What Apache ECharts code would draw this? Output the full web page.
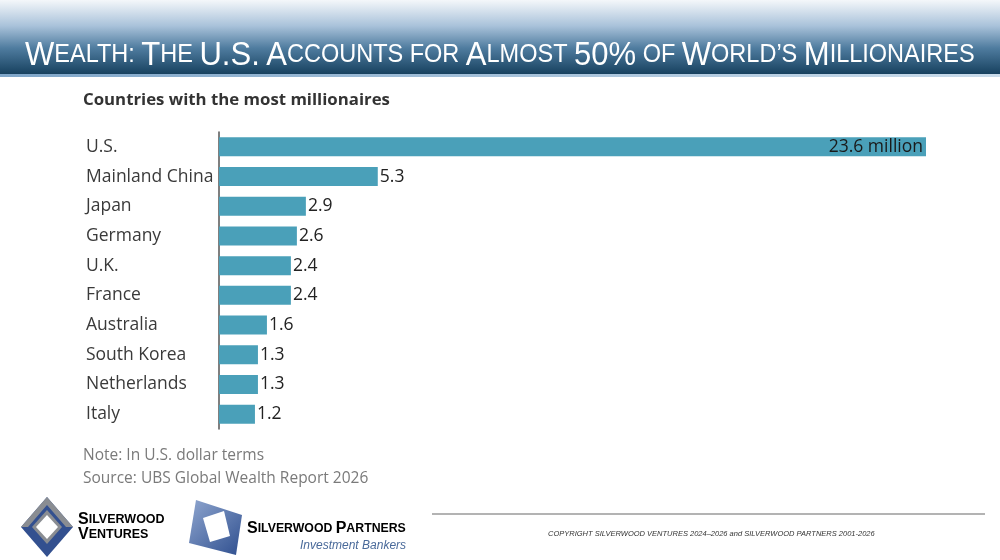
<!DOCTYPE html>
<meta charset="utf-8">
<title>Countries with the most millionaires</title>
<style>
  html, body { margin: 0; padding: 0; background: #fff; }
  #main { width: 1000px; height: 560px; }
</style>
<body>
<div id="main"></div>
<script src="https://cdn.jsdelivr.net/npm/echarts@6/dist/echarts.min.js"></script>
<script>
// data (millions of millionaires)
var countries = ['U.S.', 'Mainland China', 'Japan', 'Germany', 'U.K.', 'France',
                 'Australia', 'South Korea', 'Netherlands', 'Italy'];
var millionaires = [23.6, 5.3, 2.9, 2.6, 2.4, 2.4, 1.6, 1.3, 1.3, 1.2];

var titleRich = '{b|W}{s|EALTH:} {b|T}{s|HE} {b|U.S.} {b|A}{s|CCOUNTS FOR} {b|A}{s|LMOST} ' +
                '{b|50%} {s|OF} {b|W}{s|ORLD\u2019S} {b|M}{s|ILLIONAIRES}';

var barData = millionaires.map(function (v, i) {
  if (i === 0) {
    return { value: v, label: { position: 'insideRight', distance: 3, color: '#1a1a1a' } };
  }
  return v;
});

var myChart = echarts.init(document.getElementById('main'));

var option = {
  animation: false,
  textStyle: { fontFamily: 'Open Sans' },
  grid: { left: 219, right: 74, top: 132, height: 297 },
  xAxis: {
    type: 'value', min: 0, max: 23.6, show: false
  },
  yAxis: {
    type: 'category',
    data: countries,
    inverse: true,
    axisLine: { show: true, lineStyle: { color: '#555', width: 1.5 } },
    axisTick: { show: false },
    axisLabel: {
      align: 'left', margin: 133, fontSize: 17.5, color: '#3a3a3a', fontFamily: 'Open Sans'
    }
  },
  series: [{
    type: 'bar',
    data: barData,
    barWidth: 19,
    itemStyle: { color: '#4aa0b9' },
    label: {
      show: true, position: 'right', distance: 2,
      fontSize: 17.5, color: '#222', fontFamily: 'Open Sans',
      formatter: function (p) {
        return p.dataIndex === 0 ? p.value + ' million' : p.value;
      }
    }
  }],
  graphic: [
    // header band
    {
      type: 'rect', left: 0, top: 0, z: 0,
      shape: { width: 1000, height: 74 },
      style: {
        fill: new echarts.graphic.LinearGradient(0, 0, 0, 1, [
          { offset: 0, color: '#f4f7fa' },
          { offset: 0.35, color: '#a9c2da' },
          { offset: 0.65, color: '#4f7c9f' },
          { offset: 1, color: '#17415f' }
        ])
      }
    },
    {
      type: 'rect', left: 0, top: 74, z: 0,
      shape: { width: 1000, height: 3 },
      style: {
        fill: new echarts.graphic.LinearGradient(0, 0, 1, 0, [
          { offset: 0, color: '#7fa6c9' },
          { offset: 1, color: '#c9dbea' }
        ])
      }
    },
    {
      type: 'text', x: 25, y: 39, z: 5, scaleX: 0.94,
      style: {
        text: titleRich,
        fill: '#fff',
        font: '25px "Liberation Sans Narrow", "Liberation Sans"',
        rich: {
          b: { fontSize: 33, fontFamily: 'Liberation Sans Narrow, Liberation Sans', color: '#fff' },
          s: { fontSize: 25, fontFamily: 'Liberation Sans Narrow, Liberation Sans', color: '#fff' }
        }
      }
    },
    // chart heading and notes
    {
      type: 'text', left: 83, top: 92,
      style: { text: 'Countries with the most millionaires', fill: '#333',
               font: 'bold 16.8px "Open Sans"' }
    },
    {
      type: 'text', left: 83, top: 448,
      style: { text: 'Note: In U.S. dollar terms', fill: '#7a7a7a', font: '15.5px "Open Sans"' }
    },
    {
      type: 'text', left: 83, top: 471,
      style: { text: 'Source: UBS Global Wealth Report 2026', fill: '#7a7a7a', font: '15.5px "Open Sans"' }
    },
    // footer rule and copyright
    {
      type: 'line', shape: { x1: 432, y1: 514, x2: 985, y2: 514 },
      style: { stroke: '#9a9a9a', lineWidth: 1.5 }
    },
    {
      type: 'text', left: 548, top: 530,
      style: {
        text: 'COPYRIGHT SILVERWOOD VENTURES 2024\u20132026 and SILVERWOOD PARTNERS 2001-2026',
        fill: '#333', font: 'italic 7.5px "Liberation Sans Narrow", "Liberation Sans"'
      }
    },
    // Silverwood Ventures mark
    {
      type: 'polygon',
      shape: { points: [[47, 497], [73, 527], [47, 557], [21, 527]] },
      style: { fill: '#33508f' }
    },
    {
      type: 'polygon',
      shape: { points: [[47, 497], [73, 527], [66, 527], [47, 505], [28, 527], [21, 527]] },
      style: { fill: '#8a8d92' }
    },
    {
      type: 'polygon',
      shape: { points: [[47, 510], [62, 527], [47, 544], [32, 527]] },
      style: { fill: '#8a8d92' }
    },
    {
      type: 'polygon',
      shape: { points: [[47, 515], [58, 527], [47, 539], [36, 527]] },
      style: { fill: '#fff' }
    },
    {
      type: 'text', left: 78, top: 512,
      style: {
        text: '{b|S}{s|ILVERWOOD}\n{b|V}{s|ENTURES}',
        rich: {
          b: { fontSize: 16, fontWeight: 'bold', color: '#3a56a0', fontFamily: 'Liberation Sans', lineHeight: 15 },
          s: { fontSize: 12.5, fontWeight: 'bold', color: '#3a56a0', fontFamily: 'Liberation Sans', lineHeight: 15 }
        }
      }
    },
    // Silverwood Partners mark
    {
      type: 'polygon',
      shape: { points: [[196, 500], [242, 515], [236, 555], [189, 543]] },
      style: {
        fill: new echarts.graphic.LinearGradient(0, 0, 1, 1, [
          { offset: 0, color: '#8fa6cf' },
          { offset: 1, color: '#2f4f8f' }
        ])
      }
    },
    {
      type: 'polygon',
      shape: { points: [[203, 518], [224, 511], [230, 536], [210, 542]] },
      style: { fill: '#fff' }
    },
    {
      type: 'text', left: 247, top: 521,
      style: {
        text: '{b|S}{s|ILVERWOOD} {b|P}{s|ARTNERS}',
        rich: {
          b: { fontSize: 16, fontWeight: 'bold', color: '#737e89', fontFamily: 'Liberation Sans' },
          s: { fontSize: 12.3, fontWeight: 'bold', color: '#737e89', fontFamily: 'Liberation Sans' }
        }
      }
    },
    {
      type: 'text', left: 300, top: 540,
      style: { text: 'Investment Bankers', fill: '#4a6a9a',
               font: 'italic 12px "Liberation Sans Narrow", "Liberation Sans"' }
    }
  ]
};

myChart.setOption(option);
</script>
</body>
